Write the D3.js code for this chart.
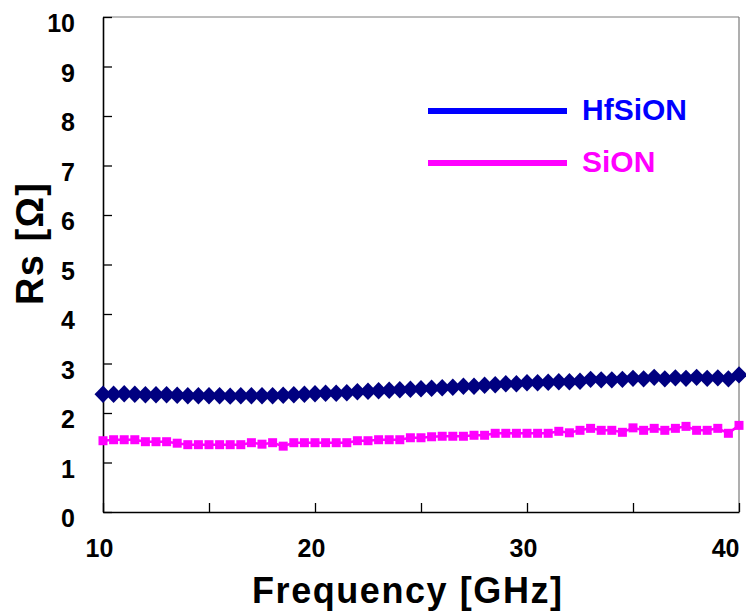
<!DOCTYPE html>
<html>
<head>
<meta charset="utf-8">
<script src="https://cdn.jsdelivr.net/npm/d3@7"></script>
<style>
  html, body { margin: 0; padding: 0; background: #fff; }
  svg { display: block; font-family: "Liberation Sans", Arial, sans-serif; font-weight: bold; }
</style>
</head>
<body>
<svg id="chart" width="746" height="616"></svg>
<script>
// Frequency sweep, 10–40 GHz in 0.5 GHz steps
const freqGHz = d3.range(10, 40.0001, 0.5);

// Series resistance Rs [Ω] for each gate stack
const hfsionRs = [
  2.38, 2.38, 2.39, 2.38, 2.37, 2.37, 2.37, 2.36, 2.35, 2.35,
  2.35, 2.35, 2.34, 2.35, 2.35, 2.35, 2.35, 2.36, 2.37, 2.38,
  2.39, 2.40, 2.40, 2.41, 2.43, 2.44, 2.45, 2.46, 2.47, 2.48,
  2.49, 2.50, 2.51, 2.52, 2.54, 2.54, 2.56, 2.57, 2.59, 2.59,
  2.61, 2.61, 2.62, 2.63, 2.63, 2.64, 2.68, 2.67, 2.67, 2.68,
  2.70, 2.69, 2.72, 2.69, 2.71, 2.70, 2.72, 2.70, 2.71, 2.69,
  2.77
];
const sionRs = [
  1.44, 1.46, 1.46, 1.46, 1.42, 1.42, 1.42, 1.39, 1.36, 1.36,
  1.36, 1.36, 1.36, 1.36, 1.40, 1.37, 1.40, 1.33, 1.40, 1.40,
  1.40, 1.40, 1.40, 1.40, 1.44, 1.44, 1.46, 1.46, 1.46, 1.50,
  1.50, 1.52, 1.53, 1.53, 1.53, 1.55, 1.55, 1.59, 1.59, 1.59,
  1.59, 1.59, 1.59, 1.63, 1.60, 1.65, 1.69, 1.65, 1.65, 1.61,
  1.70, 1.65, 1.69, 1.65, 1.69, 1.73, 1.65, 1.65, 1.69, 1.59,
  1.75
];

// Axis ticks
const xTicks = [10, 15, 20, 25, 30, 35, 40];
const xLabelled = [10, 20, 30, 40];
const yTicks = d3.range(0, 11, 1);

// Series names and legend entries
const seriesNames = ["HfSiON", "SiON"];

const svg = d3.select("#chart");
const margin = { left: 103, right: 7, top: 17, bottom: 104 };
const W = 746, H = 616;

const x = d3.scaleLinear().domain([10, 40]).range([margin.left, W - margin.right]);
const y = d3.scaleLinear().domain([0, 10]).range([H - margin.bottom, margin.top]);

// Plot frame: top and right edges in grey
svg.append("line")
  .attr("x1", x(10)).attr("x2", x(40))
  .attr("y1", y(10)).attr("y2", y(10))
  .attr("stroke", "#7a7a7a").attr("stroke-width", 1);
svg.append("line")
  .attr("x1", x(40)).attr("x2", x(40))
  .attr("y1", y(10)).attr("y2", y(0))
  .attr("stroke", "#7a7a7a").attr("stroke-width", 1.2);

// Y axis (ticks point inward)
const yAxis = svg.append("g")
  .attr("transform", `translate(${x(10)},0)`)
  .call(d3.axisLeft(y).tickValues(yTicks).tickSizeInner(-9).tickSizeOuter(0).tickPadding(28));
yAxis.select(".domain").attr("stroke", "#000").attr("stroke-width", 1.6);
yAxis.selectAll(".tick line").attr("stroke", "#000").attr("stroke-width", 1.3);
yAxis.selectAll("text")
  .attr("dy", "0.58em")
  .attr("font-size", 25).attr("font-weight", "bold")
  .attr("font-family", "'Liberation Sans', Arial, sans-serif")
  .attr("fill", "#000");

// X axis (ticks point inward, labels every 10 GHz; last label kept inside the page)
const xAxis = svg.append("g")
  .attr("transform", `translate(0,${y(0)})`)
  .call(d3.axisBottom(x).tickValues(xTicks).tickSizeInner(-9).tickSizeOuter(0)
    .tickFormat(d => xLabelled.includes(d) ? String(d) : ""));
xAxis.select(".domain").attr("stroke", "#000").attr("stroke-width", 1.6);
xAxis.selectAll(".tick line").attr("stroke", "#000").attr("stroke-width", 1.3);
xAxis.selectAll("text")
  .attr("y", 45).attr("dy", null)
  .attr("dx", d => d === 40 ? 0 : -4)
  .attr("text-anchor", d => d === 40 ? "end" : "middle")
  .attr("font-size", 25).attr("font-weight", "bold")
  .attr("font-family", "'Liberation Sans', Arial, sans-serif")
  .attr("fill", "#000");

// Axis titles
svg.append("text")
  .attr("x", 407)
  .attr("y", 603)
  .attr("text-anchor", "middle")
  .attr("font-size", 36)
  .attr("textLength", 310).attr("lengthAdjust", "spacing")
  .attr("fill", "#000")
  .text("Frequency [GHz]");

svg.append("text")
  .attr("transform", `translate(43,244) rotate(-90)`)
  .attr("text-anchor", "middle")
  .attr("font-size", 38)
  .attr("textLength", 122).attr("lengthAdjust", "spacing")
  .attr("fill", "#000")
  .text("Rs [Ω]");

// Series data
const hfData = freqGHz.map((f, i) => ({ f, v: hfsionRs[i] }));
const siData = freqGHz.map((f, i) => ({ f, v: sionRs[i] }));

const line = d3.line().x(d => x(d.f)).y(d => y(d.v));

// SiON: magenta line with square markers
svg.append("path")
  .datum(siData)
  .attr("d", line)
  .attr("fill", "none").attr("stroke", "#ff00ff").attr("stroke-width", 2.5);
const sq = 9;
svg.append("g").selectAll("rect")
  .data(siData).join("rect")
  .attr("x", d => x(d.f) - sq / 2)
  .attr("y", d => y(d.v) - sq / 2)
  .attr("width", sq).attr("height", sq)
  .attr("fill", "#ff00ff");

// HfSiON: navy line with diamond markers
svg.append("path")
  .datum(hfData)
  .attr("d", line)
  .attr("fill", "none").attr("stroke", "#000080").attr("stroke-width", 2.5);
const dw = 8.5, dh = 8.7;
svg.append("g").selectAll("path")
  .data(hfData).join("path")
  .attr("d", d => {
    const cx = x(d.f), cy = y(d.v);
    return `M${cx},${cy - dh}L${cx + dw},${cy}L${cx},${cy + dh}L${cx - dw},${cy}Z`;
  })
  .attr("fill", "#000080");

// Legend
const legendColors = ["#0000ff", "#ff00ff"];
const legend = svg.append("g");
seriesNames.forEach((name, i) => {
  const ly = 111 + i * 52;
  legend.append("line")
    .attr("x1", 428).attr("x2", 567)
    .attr("y1", ly).attr("y2", ly)
    .attr("stroke", legendColors[i]).attr("stroke-width", 6);
  legend.append("text")
    .attr("x", 582).attr("y", ly + 9)
    .attr("font-size", 30)
    .attr("fill", legendColors[i])
    .text(name);
});
</script>
</body>
</html>
